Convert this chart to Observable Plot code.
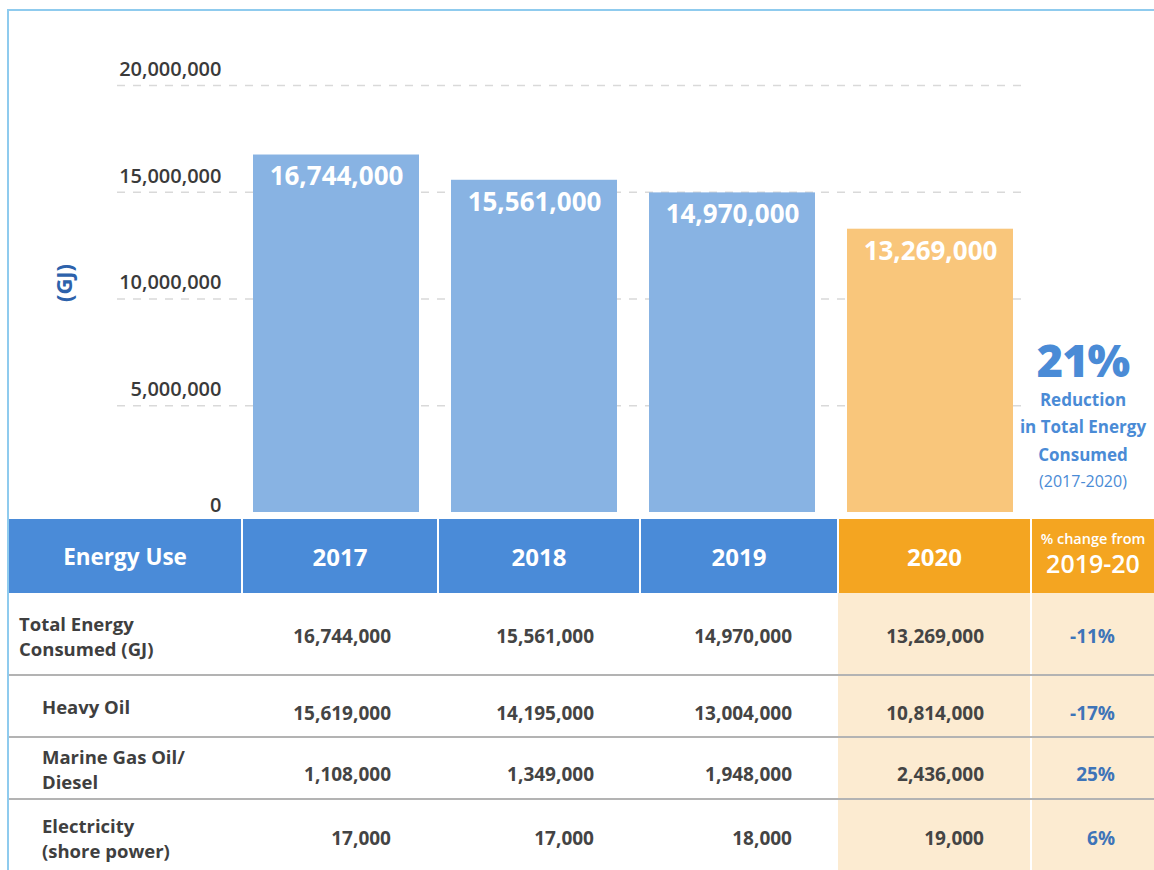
<!DOCTYPE html>
<html>
<head>
<meta charset="utf-8">
<script src="https://cdn.jsdelivr.net/npm/d3@7"></script>
<script src="https://cdn.jsdelivr.net/npm/@observablehq/plot@0.6"></script>
<style>
  html, body { margin:0; padding:0; background:#fff; overflow:hidden; width:1154px; height:870px; }
  body { font-family: "Open Sans", sans-serif; position:relative; }
  #frame { position:absolute; left:7px; top:9px; width:1147px; height:861px; border-top:2px solid #8fcbee; border-left:2px solid #8fcbee; box-sizing:border-box; }
  #chart { position:absolute; left:0; top:0; }
  #chart svg g.ytl text, #chart svg g.ytl { font-weight:600; }
  .abs { position:absolute; white-space:nowrap; }
  #gj { position:absolute; left:63px; top:283px; transform:translate(-50%,-50%) rotate(-90deg); color:#2d62ab; font-weight:700; font-size:22px; white-space:nowrap; }
  #note { position:absolute; left:1083px; top:334px; transform:translateX(-50%); text-align:center; color:#4a8bd6; white-space:nowrap; }
  #note .big { font-size:45px; font-weight:800; line-height:52px; letter-spacing:-1px; }
  #note .line { font-size:17px; font-weight:700; line-height:27.3px; }
  #note .yrs { font-size:16px; font-weight:400; line-height:27.3px; }
  .cell { position:absolute; box-sizing:border-box; }
  .hdr { color:#fff; font-weight:700; display:flex; flex-direction:column; align-items:center; justify-content:center; }
  .val { font-weight:700; font-size:19px; color:#444; text-align:right; line-height:24px; }
  .lbl { font-weight:700; font-size:18.5px; color:#3f3f3f; line-height:25px; }
</style>
</head>
<body>
<div id="frame"></div>
<div id="chart"></div>
<div id="gj">(GJ)</div>
<div id="note"></div>
<div id="table"></div>
<script>
// ---- data ----
const years = ["2017", "2018", "2019", "2020"];
const totalEnergy = [16744000, 15561000, 14970000, 13269000];
const yTicks = [0, 5000000, 10000000, 15000000, 20000000];
const barColors = ["#88b3e3", "#88b3e3", "#88b3e3", "#f9c67b"];

const headerLabels = ["Energy Use", "2017", "2018", "2019", "2020"];
const changeHeader = ["% change from", "2019-20"];
const rowLabels = [["Total Energy", "Consumed (GJ)"], ["Heavy Oil"], ["Marine Gas Oil/", "Diesel"], ["Electricity", "(shore power)"]];
const heavyOil = [15619000, 14195000, 13004000, 10814000];
const marineGasOil = [1108000, 1349000, 1948000, 2436000];
const electricity = [17000, 17000, 18000, 19000];
const pctChange = ["-11%", "-17%", "25%", "6%"];
const noteLines = ["21%", "Reduction", "in Total Energy", "Consumed", "(2017-2020)"];

const fmt = d3.format(",");
const bars = years.map((y, i) => ({year: y, value: totalEnergy[i]}));

// ---- chart ----
const axisStyle = {tickSize: 0, tickPadding: 0, tickFormat: fmt, label: null, fontSize: 20, fill: "#3a3a3a", className: "ytl"};
const chart = Plot.plot({
  width: 1154,
  height: 519,
  marginTop: 85,
  marginBottom: 7,
  marginLeft: 221,
  marginRight: 108,
  style: {fontFamily: "Open Sans, sans-serif", background: "transparent", overflow: "visible"},
  x: {domain: years, padding: 0.16, axis: null},
  y: {domain: [0, 20000000], axis: null},
  color: {domain: years, range: barColors},
  marks: [
    Plot.ruleY(yTicks.filter(d => d > 0), {stroke: "#d9d9d9", strokeWidth: 1.5, strokeDasharray: "8,8", insetLeft: -104, insetRight: 21}),
    Plot.axisY({...axisStyle, ticks: yTicks.filter(d => d > 0), dy: -16}),
    Plot.axisY({...axisStyle, ticks: yTicks.filter(d => d === 0), dy: -7}),
    Plot.barY(bars, {x: "year", y: "value", fill: "year"}),
    Plot.text(bars, {x: "year", y: "value", text: d => fmt(d.value), dy: 22, fill: "#fff", fontSize: 26, fontWeight: 700})
  ]
});
document.getElementById("chart").appendChild(chart);

// ---- annotation ----
const note = document.getElementById("note");
note.innerHTML = `<div class="big">${noteLines[0]}</div>` +
  `<div class="line">${noteLines[1]}</div><div class="line">${noteLines[2]}</div><div class="line">${noteLines[3]}</div>` +
  `<div class="yrs">${noteLines[4]}</div>`;

// ---- table ----
const tbl = document.getElementById("table");
const colL = [9, 243, 439, 641, 839, 1032];
const colR = [241, 437, 639, 837, 1030, 1154];
const hdrTop = 519, hdrH = 74;
const rowTop = [593, 675, 737, 799];
const valCenter = [636, 713, 774, 838];
const lblCenter = [635.5, 706, 768.5, 838];
const valRight = [391, 594, 792, 984];
const blue = "#4a8bd8", orange = "#f4a521", cream = "#fcebd1";

function add(html, style, cls) {
  const d = document.createElement("div");
  d.className = cls || "cell";
  d.innerHTML = html;
  Object.assign(d.style, style);
  tbl.appendChild(d);
  return d;
}
// header
for (let c = 0; c < 5; c++) {
  add(`<div style="font-size:${c === 0 ? 22.5 : 24}px">${headerLabels[c]}</div>`,
    {left: colL[c] + "px", top: hdrTop + "px", width: (colR[c] - colL[c]) + "px", height: hdrH + "px", background: c === 4 ? orange : blue}, "cell hdr");
}
add(`<div style="font-size:14.5px;font-weight:600;line-height:18px;margin-top:-4px">${changeHeader[0]}</div><div style="font-size:25px;font-weight:600;line-height:31px">${changeHeader[1]}</div>`,
  {left: colL[5] + "px", top: hdrTop + "px", width: (colR[5] - colL[5]) + "px", height: hdrH + "px", background: orange}, "cell hdr");

// cream columns
add("", {left: colL[4] - 1 + "px", top: rowTop[0] + "px", width: (colR[4] - colL[4] + 1) + "px", height: (870 - rowTop[0]) + "px", background: cream});
add("", {left: colL[5] + "px", top: rowTop[0] + "px", width: (colR[5] - colL[5]) + "px", height: (870 - rowTop[0]) + "px", background: cream});
// row separators
for (let r = 1; r < 4; r++) {
  add("", {left: "9px", top: (rowTop[r] - 1) + "px", width: "1145px", height: "2px", background: "#b3b3b3"});
}

const rows = [totalEnergy, heavyOil, marineGasOil, electricity];
rows.forEach((vals, r) => {
  const lines = rowLabels[r];
  const lh = 25;
  add(lines.join("<br>"), {left: (r === 0 ? 19 : 42) + "px", top: (lblCenter[r] - lines.length * lh / 2) + "px"}, "abs lbl");
  vals.forEach((v, c) => {
    add(fmt(v), {left: (valRight[c] - 200) + "px", width: "200px", top: (valCenter[r] - 12) + "px"}, "abs val");
  });
  add(pctChange[r], {left: (1115 - 100) + "px", width: "100px", top: (valCenter[r] - 12) + "px", color: "#3e74b8"}, "abs val");
});
</script>
</body>
</html>
